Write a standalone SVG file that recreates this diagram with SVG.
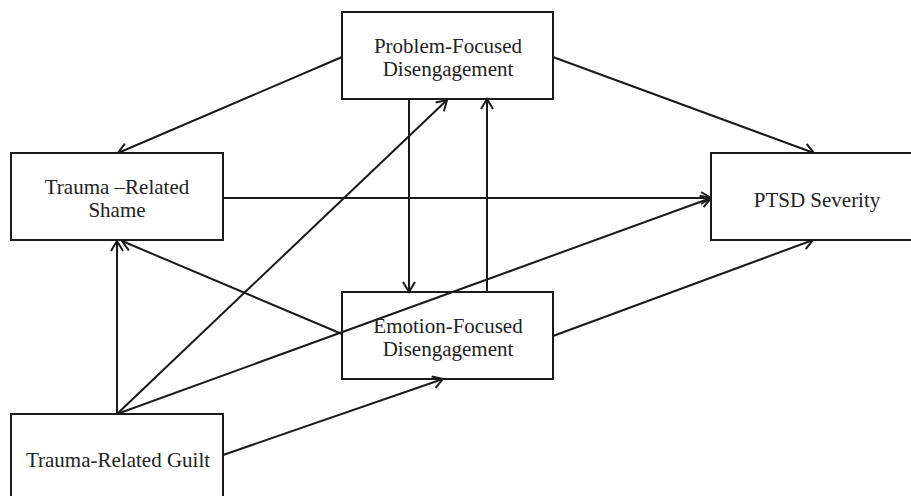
<svg xmlns="http://www.w3.org/2000/svg" width="911" height="496" viewBox="0 0 911 496">
<style>
.box{fill:#fff;stroke:#1a1a1a;stroke-width:2}
.lbl{font-family:"Liberation Serif","Times New Roman",serif;font-size:21px;fill:#222;text-anchor:middle}
.edge{stroke:#1a1a1a;stroke-width:2;fill:none;marker-end:url(#arr)}
</style>
<defs>
<marker id="arr" markerUnits="userSpaceOnUse" viewBox="0 0 14 14" refX="12" refY="7" markerWidth="14" markerHeight="14" orient="auto">
<path d="M2,1 L12,7 L2,13" fill="none" stroke="#1a1a1a" stroke-width="2"/>
</marker>
</defs>
<rect width="911" height="496" fill="#fff"/>
<g id="connectors">
<line class="edge" x1="342" y1="57" x2="118" y2="153"/>
<line class="edge" x1="553" y1="57" x2="814" y2="153"/>
<line class="edge" x1="223" y1="198" x2="711" y2="198"/>
<line class="edge" x1="409" y1="99" x2="409" y2="292"/>
<line class="edge" x1="487" y1="292" x2="487" y2="99"/>
<line class="edge" x1="342" y1="334" x2="122" y2="241"/>
<line class="edge" x1="553" y1="336" x2="813" y2="240"/>
<line class="edge" x1="117" y1="414" x2="117" y2="241"/>
<line class="edge" x1="117" y1="414" x2="447" y2="100"/>
<line class="edge" x1="117" y1="414" x2="711" y2="198"/>
<line class="edge" x1="223" y1="455" x2="443" y2="379"/>
</g>
<g id="problem">
<rect class="box" x="342" y="12" width="211" height="87" fill-opacity="0"/>
<text class="lbl" x="448" y="53">Problem-Focused</text>
<text class="lbl" x="448" y="76">Disengagement</text>
</g>
<g id="shame">
<rect class="box" x="11" y="153" width="212" height="87"/>
<text class="lbl" x="117" y="194">Trauma –Related</text>
<text class="lbl" x="117" y="217">Shame</text>
</g>
<g id="emotion">
<rect class="box" x="342" y="292" width="211" height="87" style="fill:none"/>
<text class="lbl" x="448" y="333">Emotion-Focused</text>
<text class="lbl" x="448" y="356">Disengagement</text>
</g>
<g id="ptsd">
<rect class="box" x="711" y="153" width="214" height="87"/>
<text class="lbl" x="817" y="207">PTSD Severity</text>
</g>
<g id="guilt">
<rect class="box" x="11" y="414" width="212" height="90"/>
<text class="lbl" x="118" y="467">Trauma-Related Guilt</text>
</g>
</svg>
